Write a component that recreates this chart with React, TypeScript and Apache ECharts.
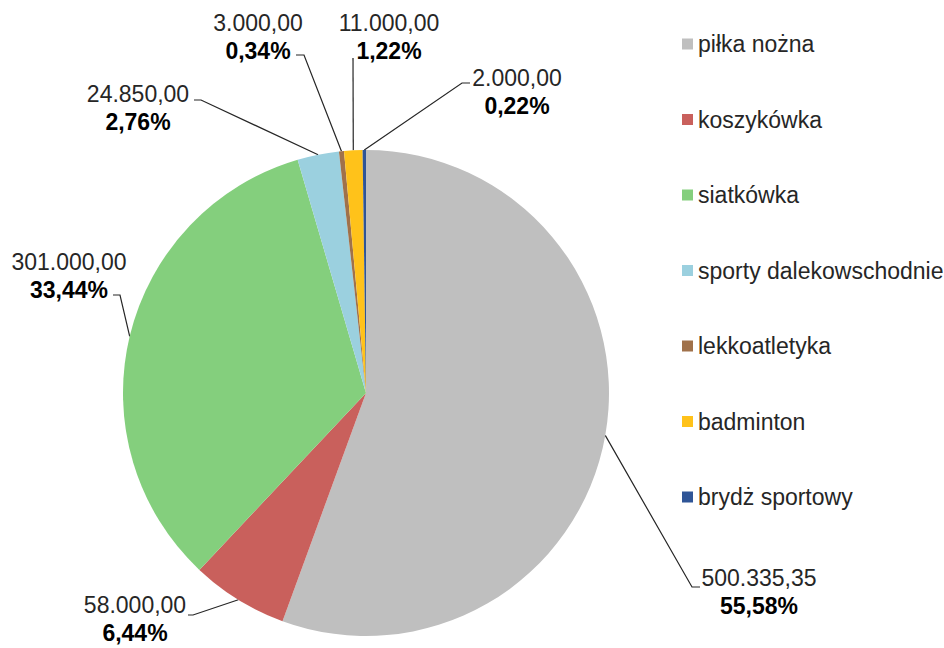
import React, { useEffect, useRef } from "react";
import * as echarts from "echarts";

const categories = [
  "piłka nożna",
  "koszykówka",
  "siatkówka",
  "sporty dalekowschodnie",
  "lekkoatletyka",
  "badminton",
  "brydż sportowy",
];
const values = [500335.35, 58000, 301000, 24850, 3000, 11000, 2000];
const colors = ["#BFBFBF", "#C9605C", "#84CF7D", "#9BD0DF", "#A0714A", "#FFC21A", "#2F5597"];

// label block centres and leader-line elbows (layout only)
const labelCenters = [
  [759, 592],
  [135, 619],
  [69, 276],
  [138, 108],
  [258, 37],
  [389, 37],
  [517, 92],
];
const lineElbows = [
  [[692, 587], [700, 587]],
  [[193, 615], [188, 615]],
  [[120, 295], [113, 295]],
  [[201, 100], [194, 100]],
  [[304, 55], [296, 55]],
  [[353, 58], [353, 58]],
  [[462, 83], [470, 83]],
];

function fmtPl(v: number): string {
  const [i, d] = v.toFixed(2).split(".");
  const withSep = i.replace(/\B(?=(\d{3})+(?!\d))/g, ".");
  return withSep + "," + d;
}

export default function App() {
  const ref = useRef<HTMLDivElement>(null);
  useEffect(() => {
    if (!ref.current) return;
    const chart = echarts.init(ref.current, undefined, { renderer: "svg" });
    const font = "'Liberation Sans', Arial, sans-serif";
    chart.setOption({
      animation: false,
      backgroundColor: "#ffffff",
      color: colors,
      textStyle: { fontFamily: font },
      legend: {
        orient: "vertical",
        left: 677,
        top: 26,
        itemWidth: 11,
        itemHeight: 11,
        itemGap: 49.5,
        icon: "rect",
        data: categories,
        textStyle: { fontSize: 23, color: "#262626", fontFamily: font, lineHeight: 26 },
      },
      series: [
        {
          type: "pie",
          center: [366, 393],
          radius: 243,
          startAngle: 90,
          clockwise: true,
          percentPrecision: 2,
          avoidLabelOverlap: false,
          data: categories.map((c, i) => ({ name: c, value: values[i] })),
          label: {
            show: true,
            position: "outside",
            formatter: (p: any) =>
              "{v|" + fmtPl(p.value) + "}\n{p|" + p.percent.toFixed(2).replace(".", ",") + "%}",
            rich: {
              v: { fontSize: 23, color: "#262626", fontFamily: font, lineHeight: 28, align: "center" },
              p: { fontSize: 23, fontWeight: "bold", color: "#000000", fontFamily: font, lineHeight: 28, align: "center" },
            },
          },
          labelLine: {
            show: true,
            length: 20,
            length2: 10,
            lineStyle: { color: "#262626", width: 1.2 },
          },
          labelLayout: (params: any) => {
            const i = params.dataIndex;
            const start = params.labelLinePoints ? params.labelLinePoints[0] : lineElbows[i][0];
            return {
              x: labelCenters[i][0],
              y: labelCenters[i][1],
              align: "center",
              verticalAlign: "middle",
              labelLinePoints: [start, lineElbows[i][0], lineElbows[i][1]],
            };
          },
          emphasis: { disabled: true },
        },
      ],
    });
    return () => chart.dispose();
  }, []);
  return (
    <div
      ref={ref}
      style={{ position: "fixed", left: 0, top: 0, width: 944, height: 648 }}
    />
  );
}
